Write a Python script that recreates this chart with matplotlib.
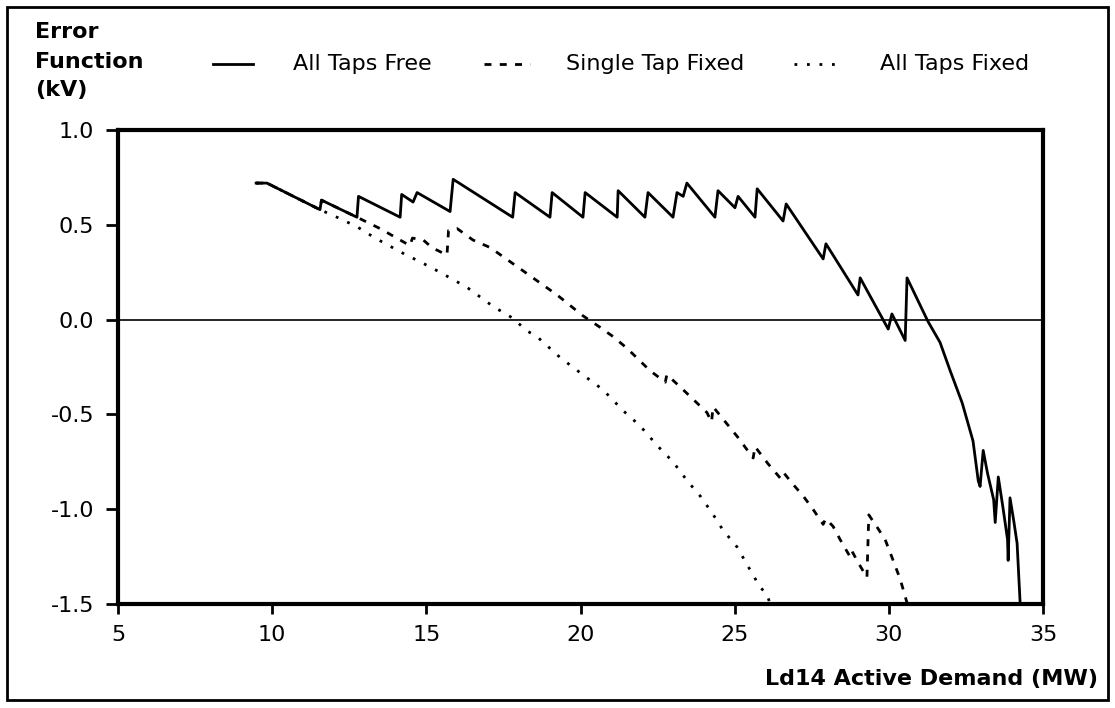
import numpy as np
import matplotlib
matplotlib.use("Agg")
import matplotlib.pyplot as plt
from matplotlib.lines import Line2D
from matplotlib.patches import Rectangle

plt.rcParams['font.family'] = ['DejaVu Sans']
plt.rcParams['axes.unicode_minus'] = False

# All Taps Free (solid)
free_x = [9.48, 9.83, 11.55, 11.6, 12.75, 12.8, 14.15, 14.2, 14.57, 14.7,
          15.77, 15.87, 17.8, 17.88, 19.01, 19.08, 20.08, 20.15, 21.19, 21.22,
          22.09, 22.19, 23.0, 23.13, 23.33, 23.45, 24.36, 24.46, 25.01, 25.11,
          25.66, 25.73, 26.57, 26.67, 27.87, 27.96, 29.0, 29.07, 29.98, 30.1,
          30.53, 30.59, 31.27, 31.66, 31.99, 32.38, 32.73, 32.9, 32.96, 33.06,
          33.2, 33.4, 33.45, 33.55, 33.7, 33.85, 33.87, 33.93, 34.05, 34.16, 34.26]
free_y = [0.72, 0.72, 0.58, 0.63, 0.54, 0.65, 0.54, 0.66, 0.62, 0.67,
          0.57, 0.74, 0.54, 0.67, 0.54, 0.67, 0.54, 0.67, 0.54, 0.68,
          0.54, 0.67, 0.54, 0.67, 0.65, 0.72, 0.54, 0.68, 0.59, 0.65,
          0.54, 0.69, 0.52, 0.61, 0.32, 0.40, 0.13, 0.22, -0.05, 0.03,
          -0.11, 0.22, -0.01, -0.12, -0.27, -0.44, -0.64, -0.85, -0.88, -0.69,
          -0.81, -0.95, -1.07, -0.83, -0.99, -1.16, -1.27, -0.94, -1.06, -1.18, -1.5]

# Single Tap Fixed (dashed)
single_x = [9.48, 9.83, 11.55, 11.6, 12.75, 13.5, 14.47, 14.55, 14.9, 15.18,
            15.67, 15.72, 16.0, 16.51, 17.07, 17.94, 18.46, 19.24, 20.08, 20.63,
            21.06, 21.5, 22.26, 22.75, 22.8, 23.33, 24.1, 24.25, 24.3, 25.1,
            25.6, 25.66, 26.08, 26.5, 26.6, 26.9, 27.22, 27.54, 27.87, 27.95,
            28.19, 28.42, 28.74, 28.8, 29.0, 29.29, 29.35, 29.6, 29.88, 30.14,
            30.37, 30.53, 30.6]
single_y = [0.72, 0.72, 0.58, 0.63, 0.54, 0.48, 0.39, 0.43, 0.42, 0.38,
            0.34, 0.47, 0.48, 0.42, 0.38, 0.28, 0.22, 0.13, 0.02, -0.04,
            -0.09, -0.15, -0.27, -0.33, -0.29, -0.37, -0.49, -0.54, -0.46, -0.62,
            -0.73, -0.67, -0.76, -0.84, -0.81, -0.87, -0.93, -1.0, -1.08, -1.05,
            -1.09, -1.16, -1.25, -1.22, -1.28, -1.36, -1.03, -1.09, -1.16, -1.27,
            -1.37, -1.46, -1.5]

# All Taps Fixed (dotted)
fixed_x = [9.48, 9.83, 11.55, 12.1, 12.75, 13.34, 14.24, 14.86, 15.44, 16.32,
           17.16, 17.78, 18.27, 18.59, 19.34, 20.15, 20.73, 21.38, 21.93, 22.52,
           23.0, 23.46, 23.88, 24.27, 24.62, 25.08, 25.43, 25.82, 26.05, 26.15]
fixed_y = [0.72, 0.72, 0.58, 0.54, 0.49, 0.43, 0.35, 0.30, 0.25, 0.17,
           0.07, 0.01, -0.06, -0.09, -0.20, -0.30, -0.37, -0.48, -0.56, -0.67,
           -0.75, -0.85, -0.93, -1.02, -1.11, -1.2, -1.3, -1.41, -1.45, -1.5]

labels = ['All Taps Free', 'Single Tap Fixed', 'All Taps Fixed']
x_ticks = [5, 10, 15, 20, 25, 30, 35]
y_ticks = [-1.5, -1.0, -0.5, 0.0, 0.5, 1.0]

dash_style = (0, (2.5, 3))
dot_style = (0, (1, 3.5))

fig = plt.figure(figsize=(11.15, 7.08), dpi=100)
W, H = 1115, 708
ax = fig.add_axes([118 / W, 1 - 604 / H, 925 / W, 474 / H])

ax.axhline(0, color='black', lw=1.2, zorder=1)
ax.plot(fixed_x, fixed_y, color='black', lw=2, linestyle=dot_style, zorder=2)
ax.plot(single_x, single_y, color='black', lw=2, linestyle=dash_style, zorder=3)
ax.plot(free_x, free_y, color='black', lw=2, linestyle='-', zorder=4)

ax.set_xlim(5, 35)
ax.set_ylim(-1.5, 1.0)
ax.set_xticks(x_ticks)
ax.set_yticks(y_ticks)
ax.set_yticklabels([f'{v:.1f}' for v in y_ticks])
for s in ax.spines.values():
    s.set_linewidth(3)
ax.tick_params(axis='x', length=7, width=2, pad=8, labelsize=16, direction='out')
ax.tick_params(axis='y', length=9, width=2, pad=8, labelsize=16, direction='out')

# y label block
fig.text(35 / W, 1 - 32 / H, 'Error', fontsize=16, fontweight='bold', ha='left', va='center')
fig.text(35 / W, 1 - 62 / H, 'Function', fontsize=16, fontweight='bold', ha='left', va='center')
fig.text(35 / W, 1 - 90 / H, '(kV)', fontsize=16, fontweight='bold', ha='left', va='center')

# x label
fig.text(1098 / W, 1 - 679 / H, 'Ld14 Active Demand (MW)', fontsize=16,
         fontweight='bold', ha='right', va='center')

# legend row
ly = 1 - 64 / H
samples = [(213, 253, '-', 293), (484, 530, dash_style, 566), (794, 840, dot_style, 880)]
for (x0, x1, ls, tx), lab in zip(samples, labels):
    fig.add_artist(Line2D([x0 / W, x1 / W], [ly, ly], color='black', lw=2,
                          linestyle=ls, transform=fig.transFigure))
    fig.text(tx / W, ly, lab, fontsize=16, ha='left', va='center')

# outer frame
fig.add_artist(Rectangle((7 / W, 8 / H), 1101 / W, 693 / H, fill=False,
                         lw=2, edgecolor='black', transform=fig.transFigure))

fig.savefig('out.png', dpi=100)
